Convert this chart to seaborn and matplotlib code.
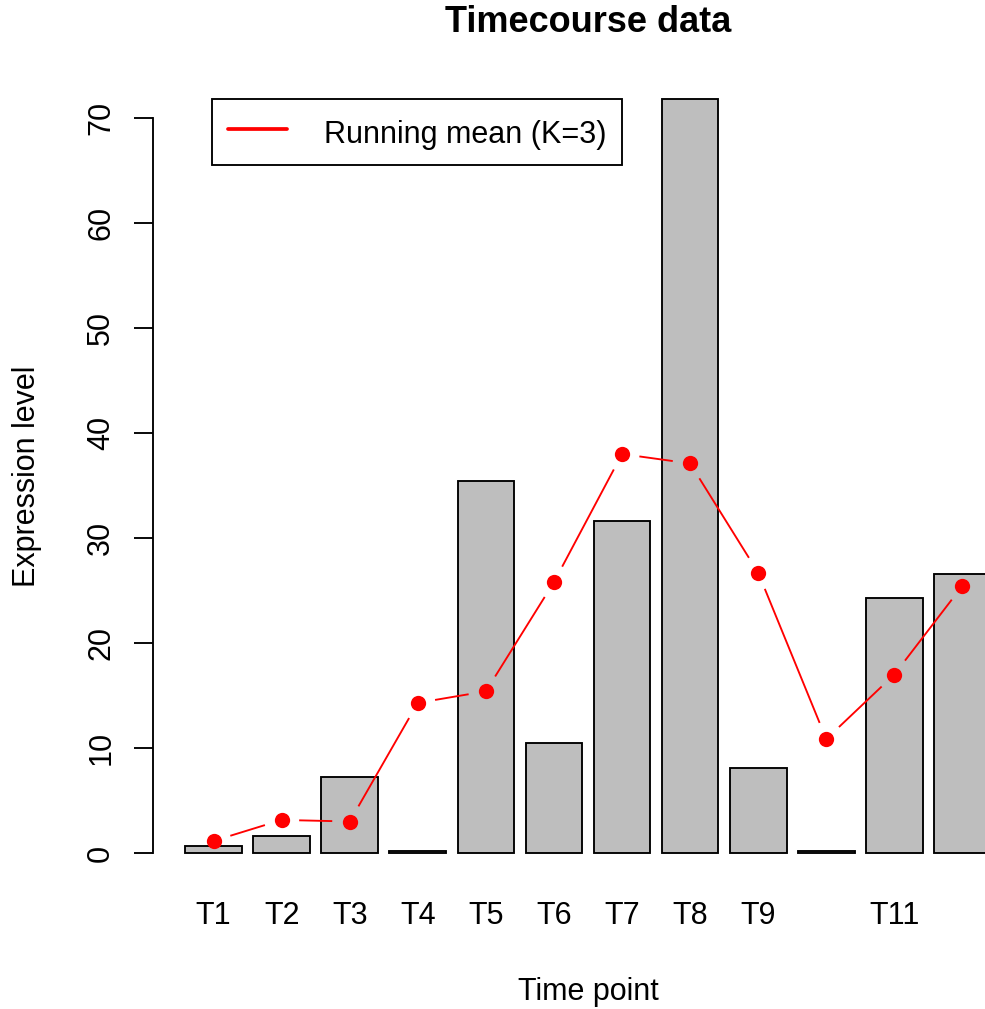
import numpy as np
import pandas as pd
import matplotlib
matplotlib.use("Agg")
import matplotlib.pyplot as plt
from matplotlib.lines import Line2D
import seaborn as sns

# ---- data ----
time_points = ["T1", "T2", "T3", "T4", "T5", "T6", "T7", "T8", "T9", "T10", "T11", "T12"]
tick_labels = ["T1", "T2", "T3", "T4", "T5", "T6", "T7", "T8", "T9", "", "T11", ""]
expression = [0.7, 1.6, 7.2, 0.2, 35.4, 10.5, 31.6, 71.8, 8.1, 0.15, 24.3, 26.6]
running_mean = [1.15, 3.15, 3.0, 14.3, 15.4, 25.8, 38.0, 37.1, 26.7, 10.85, 17.0, 25.45]
y_ticks = [0, 10, 20, 30, 40, 50, 60, 70]
legend_label = "Running mean (K=3)"

sns.set_theme(style="white")
plt.rcParams['font.family'] = ['Liberation Sans', 'DejaVu Sans']
plt.rcParams['text.color'] = 'black'

W, H = 985, 1009
fig = plt.figure(figsize=(W / 100, H / 100), dpi=100)
# axes region in pixels: x 153..1023, y 69..883
ax = fig.add_axes([153 / W, (H - 883) / H, (1023 - 153) / W, (883 - 69) / H])

df = pd.DataFrame({"time": time_points, "expr": expression})
sns.barplot(data=df, x="time", y="expr", order=time_points, color="#BEBEBE",
            saturation=1, width=1 / 1.2, edgecolor="black", linewidth=1.35,
            errorbar=None, ax=ax, zorder=2)

ax.set_xlim(-0.89, 11.89)
ax.set_ylim(-2.857, 74.67)

# running mean line with gaps around the points (R type="b")
xs = np.arange(len(time_points))
pts = ax.transData.transform(np.column_stack([xs, running_mean]))
gap = 17.5
inv = ax.transData.inverted()
for p0, p1 in zip(pts[:-1], pts[1:]):
    d = p1 - p0
    L = np.hypot(*d)
    if L > 2 * gap:
        u = d / L
        seg = inv.transform(np.array([p0 + u * gap, p1 - u * gap]))
        ax.plot(seg[:, 0], seg[:, 1], color="red", lw=1.35, zorder=3,
                solid_capstyle="butt")
sns.scatterplot(x=xs, y=running_mean, color="red", s=121, linewidth=0,
                ax=ax, zorder=4, legend=False)

# axes styling
for s in ["top", "right", "bottom"]:
    ax.spines[s].set_visible(False)
ax.spines["left"].set_bounds(0, 70)
ax.spines["left"].set_linewidth(1.35)
ax.spines["left"].set_color("black")

ax.set_xticks(xs)
ax.set_xticklabels(tick_labels)
ax.tick_params(axis="x", length=0, pad=13, labelsize=22, colors="black", bottom=False)
ax.set_yticks(y_ticks)
ax.set_yticklabels([str(v) for v in y_ticks], rotation=90, va="center")
ax.tick_params(axis="y", left=True, length=13.5, width=1.35, pad=13,
               labelsize=22, colors="black", direction="out")

ax.set_xlabel("Time point", fontsize=22, color="black", va="baseline")
ax.xaxis.set_label_coords(0.5, (883 - 1000) / (883 - 69))
ax.set_ylabel("Expression level", fontsize=22, color="black", va="baseline")
ax.yaxis.set_label_coords((35 - 153) / (1023 - 153), 0.5)
ax.set_title("Timecourse data", fontsize=26, fontweight="bold", color="black",
             y=(883 - 32) / (883 - 69), va="baseline", pad=0)

handle = Line2D([], [], color="red", lw=2.7)
leg = fig.legend([handle], [legend_label], loc="upper left",
                 bbox_to_anchor=(212 / W, 1 - 99.3 / H), bbox_transform=fig.transFigure,
                 borderaxespad=0, fontsize=22, frameon=True, fancybox=False,
                 shadow=False, framealpha=1, borderpad=0.52, handlelength=1.95,
                 handletextpad=1.19, handleheight=1.35, labelcolor="black")
leg.get_frame().set_edgecolor("black")
leg.get_frame().set_linewidth(1.35)

fig.savefig("out.png", dpi=100)
